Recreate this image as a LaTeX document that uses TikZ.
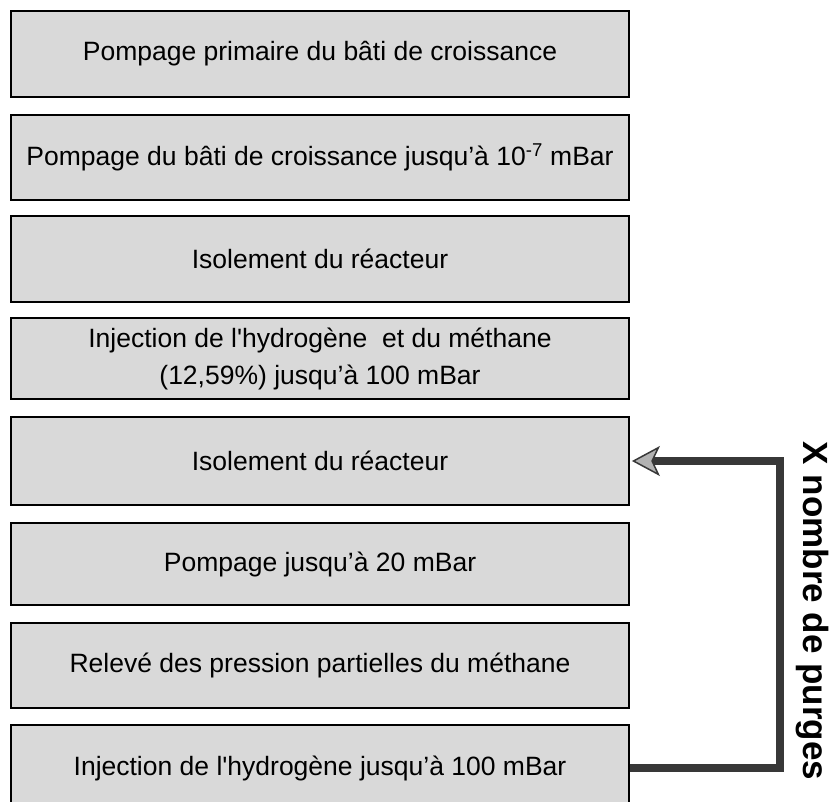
\documentclass[tikz,border=0pt]{standalone}
\usepackage{fontspec}
\setmainfont{Liberation Sans}
\usetikzlibrary{arrows.meta}
\begin{document}
\begin{tikzpicture}[x=1pt,y=-1pt]
\tikzset{
  stepbox/.style={draw=black, line width=1.8pt, fill=gray!30, minimum width=618pt,
    inner sep=0pt, align=center, font=\fontsize{26.5}{37}\selectfont},
  conn/.style={draw=black!78, line width=8pt,
    -{Stealth[length=28pt,width=30pt,inset=7pt,fill=gray!60,line width=1.5pt]}},
  lbl/.style={font=\fontsize{35}{40}\selectfont\bfseries}
}
\useasboundingbox (0,0) rectangle (830,801);
\node[stepbox, minimum height=86pt] (b1) at (320,54) {Pompage primaire du bâti de croissance};
\node[stepbox, minimum height=85pt] (b2) at (320,157.5) {Pompage du bâti de croissance jusqu’à 10\textsuperscript{-7} mBar};
\node[stepbox, minimum height=86pt] (b3) at (320,259) {Isolement du réacteur};
\node[stepbox, minimum height=81pt] (b4) at (320,358.5) {Injection de l\textquotesingle hydrogène\ \ et du méthane\\(12,59\%) jusqu’à 100 mBar};
\node[stepbox, minimum height=88pt] (b5) at (320,461) {Isolement du réacteur};
\node[stepbox, minimum height=82pt] (b6) at (320,564) {Pompage jusqu’à 20 mBar};
\node[stepbox, minimum height=85pt] (b7) at (320,665.5) {Relevé des pression partielles du méthane};
\node[stepbox, minimum height=86pt] (b8) at (320,768) {Injection de l\textquotesingle hydrogène jusqu’à 100 mBar};
\coordinate (cx) at (780,0);
\draw[conn] (b8.east) -- (b8.east -| cx) |- ([xshift=2pt]b5.east);
\node[lbl, rotate=-90, anchor=base] (lab) at (803,611) {X nombre de purges};
\end{tikzpicture}
\end{document}
